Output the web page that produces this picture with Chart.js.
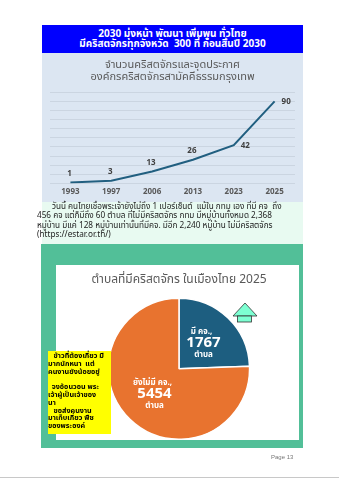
<!DOCTYPE html>
<html>
<head>
<meta charset="utf-8">
<script src="https://cdn.jsdelivr.net/npm/chart.js@4.4.1/dist/chart.umd.min.js"></script>
<style>
  html, body { margin:0; padding:0; background:#ffffff; }
  body { width:339px; height:480px; position:relative; overflow:hidden;
         font-family: Tahoma, "Noto Sans Thai", "Leelawadee UI", sans-serif; }
  .abs { position:absolute; }
  #header { left:42px; top:25px; width:261px; height:28px; background:#0000ff; color:#fff;
            font-weight:bold; font-size:10px; line-height:10px; text-align:center; }
  #header div { white-space:nowrap; }
  #lineBox { left:42px; top:53px; width:261px; height:149px; background:#dce6f2; }
  #textBox { left:42px; top:202px; width:261px; height:42px; background:#e8faf1; }
  #para { left:37px; top:202px; width:266px; font-size:8.2px; line-height:9.3px; color:#222; }
  #para div { white-space:nowrap; }
  #greenBox { left:41px; top:244px; width:262px; height:204px; background:#52bf98; }
  #pieBox { left:56px; top:265px; width:243px; height:175px; background:#ffffff; }
  #yellow { left:48px; top:351px; width:63px; height:82px; background:#ffff00; color:#000;
            font-weight:bold; font-size:7.2px; line-height:7.8px; padding-top:1px; }
  #yellow div { white-space:nowrap; }
  #pageNo { left:271px; top:454px; font-size:6px; color:#777; font-family:"Liberation Sans", Arial, sans-serif; }
  #rule { left:0; top:477px; width:339px; height:1px; background:#c8c8c8; }
</style>
</head>
<body>
<div id="header" class="abs">
  <div style="margin-top:4px">2030 มุ่งหน้า พัฒนา เพิ่มพูน ทั่วไทย</div>
  <div>มีคริสตจักรทุกจังหวัด&nbsp; 300 ที่ ก่อนสิ้นปี 2030</div>
</div>
<div id="lineBox" class="abs"><canvas id="lineChart"></canvas></div>
<div id="textBox" class="abs"></div>
<div id="para" class="abs">
  <div>&nbsp;&nbsp;&nbsp;&nbsp;&nbsp;&nbsp;&nbsp;วันนี้ คนไทยเชื่อพระเจ้ายังไม่ถึง 1 เปอร์เซ็นต์&nbsp; แม้ใน กทม เอง ที่มี คจ&nbsp; ถึง</div>
  <div>456 คจ แต่ก็มีถึง 60 ตำบล ที่ไม่มีคริสตจักร กทม มีหมู่บ้านทั้งหมด 2,368</div>
  <div>หมู่บ้าน มีแค่ 128 หมู่บ้านเท่านั้นที่มีคจ. มีอีก 2,240 หมู่บ้าน ไม่มีคริสตจักร</div>
  <div>(https://estar.or.th/)</div>
</div>
<div id="greenBox" class="abs"></div>
<div id="pieBox" class="abs"><canvas id="pieChart"></canvas></div>
<svg class="abs" style="left:230px;top:300px" width="30" height="25" viewBox="230 300 30 25">
  <polygon points="245,303 233,316 257,316" fill="#7dffd2" stroke="#333" stroke-width="0.8"/>
  <rect x="237.5" y="316" width="14" height="6" fill="#7dffd2" stroke="#333" stroke-width="0.8"/>
</svg>
<div id="yellow" class="abs">
  <div>&nbsp;&nbsp;&nbsp;ข้าวที่ต้องเกี่ยว มี</div>
  <div>มากนักหนา&nbsp; แต่</div>
  <div>คนงานยังน้อยอยู่</div>
  <div>&nbsp;</div>
  <div>&nbsp;&nbsp;จงอ้อนวอน พระ</div>
  <div>เจ้าผู้เป็นเจ้าของ</div>
  <div>นา</div>
  <div>&nbsp;&nbsp;&nbsp;ขอส่งคนงาน</div>
  <div>มาเก็บเกี่ยว พืช</div>
  <div>ของพระองค์</div>
</div>
<div id="pageNo" class="abs">Page 13</div>
<div id="rule" class="abs"></div>

<script>
// ---- data ----
const years = ['1993', '1997', '2006', '2013', '2023', '2025'];
const churchCounts = [1, 3, 13, 26, 42, 90];
const lineTitle = ['จำนวนคริสตจักรและจุดประกาศ', 'องค์กรคริสตจักรสามัคคีธรรมกรุงเทพ'];
const yAxisMax = 100;
const yAxisStep = 10;

const pieTitle = 'ตำบลที่มีคริสตจักร ในเมืองไทย 2025';
const pieLabels = ['มี คจ.,', 'ยังไม่มี คจ.,'];
const pieValues = [1767, 5454];
const pieUnit = 'ตำบล';

const FONT = 'Tahoma, "Noto Sans Thai", "Leelawadee UI", sans-serif';
Chart.defaults.font.family = FONT;
Chart.defaults.animation = false;

// value labels for the line chart
const lineValueLabels = {
  id: 'lineValueLabels',
  afterDatasetsDraw(chart) {
    const ctx = chart.ctx;
    const meta = chart.getDatasetMeta(0);
    ctx.save();
    ctx.font = 'bold 8px ' + FONT;
    ctx.fillStyle = '#404040';
    ctx.textBaseline = 'middle';
    meta.data.forEach((pt, i) => {
      const v = chart.data.datasets[0].data[i];
      if (i >= 4) {
        ctx.textAlign = 'left';
        ctx.fillText(String(v), pt.x + 7, pt.y + 1);
      } else {
        ctx.textAlign = 'center';
        ctx.fillText(String(v), pt.x - 1, pt.y - 8);
      }
    });
    ctx.restore();
  }
};

new Chart(document.getElementById('lineChart'), {
  type: 'line',
  data: {
    labels: years,
    datasets: [{
      data: churchCounts,
      borderColor: '#215f80',
      borderWidth: 2,
      pointRadius: 0,
      tension: 0,
      fill: false
    }]
  },
  options: {
    responsive: true,
    maintainAspectRatio: false,
    layout: { padding: { left: 8, right: 8, top: 0, bottom: 1 } },
    plugins: {
      legend: { display: false },
      tooltip: { enabled: false },
      title: {
        display: true,
        text: lineTitle,
        color: '#595959',
        font: { size: 11, weight: 'normal', lineHeight: 1.1 },
        padding: { top: 7, bottom: 8 }
      }
    },
    scales: {
      x: {
        offset: true,
        grid: { display: false, drawTicks: false },
        border: { display: false },
        ticks: { color: '#595959', font: { size: 8, weight: 'bold' }, padding: 4, maxRotation: 0 }
      },
      y: {
        min: 0,
        max: yAxisMax,
        ticks: { display: false, stepSize: yAxisStep },
        grid: { color: '#c6d0dc', drawTicks: false, lineWidth: 0.8 },
        border: { display: false }
      }
    }
  },
  plugins: [lineValueLabels]
});

// labels inside pie slices
const pieSliceLabels = {
  id: 'pieSliceLabels',
  afterDatasetsDraw(chart) {
    const ctx = chart.ctx;
    const meta = chart.getDatasetMeta(0);
    ctx.save();
    ctx.fillStyle = '#ffffff';
    ctx.textAlign = 'center';
    ctx.textBaseline = 'middle';
    meta.data.forEach((arc, i) => {
      const p = arc.tooltipPosition();
      ctx.font = 'bold 8px ' + FONT;
      ctx.fillText(chart.data.labels[i], p.x - 2, p.y - 11);
      ctx.font = 'bold 15px ' + FONT;
      ctx.fillText(String(chart.data.datasets[0].data[i]), p.x, p.y + 1);
      ctx.font = 'bold 8px ' + FONT;
      ctx.fillText(pieUnit, p.x, p.y + 12);
    });
    ctx.restore();
  }
};

new Chart(document.getElementById('pieChart'), {
  type: 'pie',
  data: {
    labels: pieLabels,
    datasets: [{
      data: pieValues,
      backgroundColor: ['#1d5e80', '#e8732f'],
      borderColor: '#ffffff',
      borderWidth: 1.5
    }]
  },
  options: {
    responsive: true,
    maintainAspectRatio: false,
    layout: { padding: { left: 3, right: 0, top: 0, bottom: 0 } },
    plugins: {
      legend: { display: false },
      tooltip: { enabled: false },
      title: {
        display: true,
        text: pieTitle,
        color: '#595959',
        font: { size: 12, weight: 'normal', lineHeight: 1.2 },
        padding: { top: 8, bottom: 10 }
      }
    }
  },
  plugins: [pieSliceLabels]
});
</script>
</body>
</html>
